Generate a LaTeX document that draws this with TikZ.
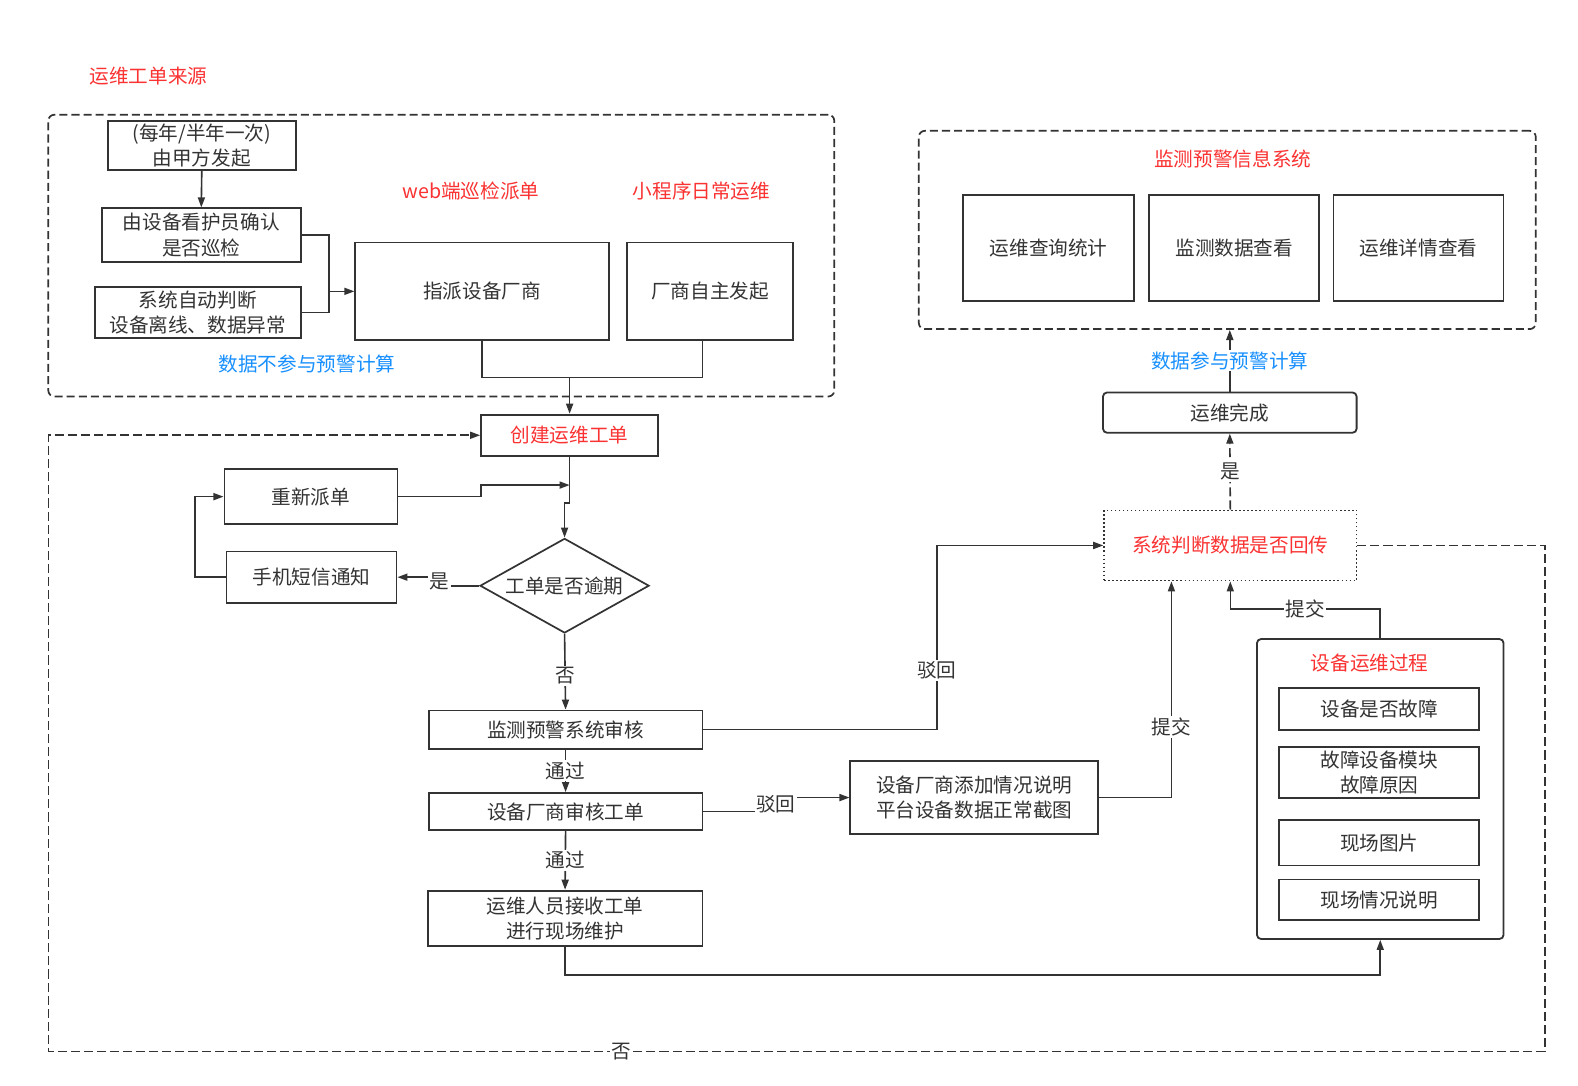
\documentclass[tikz,border=0pt]{standalone}
\usepackage{fontspec}
\setmainfont{Noto Sans CJK SC}
\usetikzlibrary{arrows.meta,shapes.geometric}
\definecolor{ink}{RGB}{51,51,51}
\definecolor{hred}{RGB}{250,50,50}
\definecolor{hblue}{RGB}{24,144,255}
\begin{document}
\begin{tikzpicture}[x=1pt,y=-1pt,
  every node/.style={font=\fontsize{19.5}{25}\selectfont, text=ink, inner sep=0pt},
  box/.style={draw=ink, line width=1.8pt, align=center},
  rbox/.style={box, rounded corners=4pt},
  grp/.style={draw=ink, line width=1.7pt, dash pattern=on 8pt off 4pt, rounded corners=6pt},
  dotbox/.style={draw=ink, line width=1.4pt, dash pattern=on 1.5pt off 2.5pt, align=center},
  conn/.style={draw=ink, line width=1.6pt},
  arr/.style={conn, -{Triangle[length=10pt,width=7pt]}},
  darr/.style={arr, dash pattern=on 9pt off 4pt},
  lbl/.style={fill=white, inner sep=1.5pt},
  redtxt/.style={text=hred},
  bluetxt/.style={text=hblue}
]
\fill[white] (0,0) rectangle (1568,1079);
\useasboundingbox (0,0) rectangle (1568,1079);

% titles
\node[redtxt] (t1) at (147.5,76) {运维工单来源};

% top-left group
\node[grp, minimum width=781pt, minimum height=280pt] (TL) at (438.5,254) {};
\node[redtxt] (t2) at (468,190) {web端巡检派单};
\node[redtxt] (t3) at (697,190) {小程序日常运维};
\node[bluetxt] (t4) at (305,362) {数据不参与预警计算};

\node[box, minimum width=187pt, minimum height=49pt] (A) at (200.5,144.5) {(每年/半年一次)\\由甲方发起};
\node[box, minimum width=198pt, minimum height=53pt] (B) at (200,233.5) {由设备看护员确认\\是否巡检};
\node[box, minimum width=205pt, minimum height=51pt] (C) at (196.5,310.5) {系统自动判断\\设备离线、数据异常};
\node[box, minimum width=252pt, minimum height=97pt] (D) at (479,289.5) {指派设备厂商};
\node[box, minimum width=165pt, minimum height=97pt] (E) at (705.5,289.5) {厂商自主发起};

\node[box, redtxt, minimum width=176pt, minimum height=41pt] (F) at (566,432.5) {创建运维工单};

% left loop
\node[box, minimum width=172pt, minimum height=55pt] (H) at (309,493.5) {重新派单};
\node[box, minimum width=169pt, minimum height=51pt] (I) at (309.5,573.5) {手机短信通知};
\node[draw=ink, line width=1.7pt, shape=diamond, aspect=1.78, minimum width=168pt, minimum height=94pt] (J) at (561,582) {工单是否逾期};

% main column
\node[box, minimum width=272pt, minimum height=38pt] (K) at (562,725) {监测预警系统审核};
\node[box, minimum width=272pt, minimum height=37pt] (L) at (562,806.5) {设备厂商审核工单};
\node[box, minimum width=273pt, minimum height=55pt] (M) at (561.5,912.5) {运维人员接收工单\\进行现场维护};
\node[box, minimum width=246pt, minimum height=73pt] (O) at (968,792.5) {设备厂商添加情况说明\\平台设备数据正常截图};

% right side
\node[dotbox, redtxt, minimum width=251pt, minimum height=70pt] (G) at (1222.5,542) {系统判断数据是否回传};
\node[rbox, minimum width=245pt, minimum height=298pt] (N) at (1371.5,784) {};
\node[redtxt] (t6) at (1361,659) {设备运维过程};
\node[box, minimum width=199pt, minimum height=41pt] (N1) at (1370.5,704.5) {设备是否故障};
\node[box, minimum width=199pt, minimum height=51pt] (N2) at (1370.5,767.5) {故障设备模块\\故障原因};
\node[box, minimum width=199pt, minimum height=45pt] (N3) at (1370.5,837.5) {现场图片};
\node[box, minimum width=199pt, minimum height=40pt] (N4) at (1370.5,894) {现场情况说明};

\node[rbox, minimum width=252pt, minimum height=40pt] (P) at (1222,410) {运维完成};

\node[grp, minimum width=613pt, minimum height=197pt] (Q) at (1219.5,228.5) {};
\node[redtxt] (t5) at (1225,158) {监测预警信息系统};
\node[box, minimum width=170pt, minimum height=105pt] (Q1) at (1042,246.5) {运维查询统计};
\node[box, minimum width=169pt, minimum height=105pt] (Q2) at (1226.5,246.5) {监测数据查看};
\node[box, minimum width=169pt, minimum height=105pt] (Q3) at (1409.5,246.5) {运维详情查看};

% helper coordinates
\coordinate (mx) at (327,0);
\coordinate (my) at (0,375);
\coordinate (ex) at (698,0);
\coordinate (fy) at (0,500);
\coordinate (hy) at (0,482);
\coordinate (hx2) at (478,0);
\coordinate (hx) at (194,0);
\coordinate (sy) at (437,0);
\coordinate (kx) at (931,0);
\coordinate (sx) at (771,0);
\coordinate (tx) at (1164,0);
\coordinate (ty) at (0,605);
\coordinate (my2) at (0,969);
\coordinate (rx) at (1535,0);
\coordinate (by) at (0,1045);
\coordinate (lx) at (48,0);

% connectors top-left
\draw[arr] (A.south) -- (B.north);
\draw[conn] (B.east) -| (mx |- D.west);
\draw[conn] (C.east) -| (mx |- D.west);
\draw[arr] (mx |- D.west) -- (D.west);
\draw[conn] (D.south) |- (F.north |- my);
\draw[conn] (E.south -| ex) |- (F.north |- my);
\draw[arr] (F.north |- my) -- (F.north);

% F -> J
\draw[arr] (F.south) -- (F.south |- fy) -- (J.north |- fy) -- (J.north);
% H -> line
\draw[arr] (H.east) -- (H.east -| hx2) -- (hx2 |- hy) -- (F.south |- hy);
% J -> I
\draw[arr] (J.west) -- (J.west -| sy) -- node[lbl]{是} (I.east -| sy) -- (I.east);
% I -> H
\draw[arr] (I.west) -- (I.west -| hx) -- (hx |- H.west) -- (H.west);
% J -> K
\draw[arr] (J.south) -- node[lbl, pos=0.55]{否} (K.north);
\draw[arr] (K.south) -- node[lbl]{通过} (L.north);
\draw[arr] (L.south) -- node[lbl, pos=0.5]{通过} (M.north);
% K -> G
\draw[arr] (K.east) -| node[lbl, pos=0.66]{驳回} (G.west -| kx) -- (G.west);
% L -> O
\draw[arr] (L.east) -- (L.east -| sx) -- node[lbl]{驳回} (O.west -| sx) -- (O.west);
% O -> G
\draw[arr] (O.east) -| node[lbl, pos=0.663]{提交} (G.south -| tx);
% N -> G
\draw[arr] (N.north) -- (N.north |- ty) -- node[lbl]{提交} (G.south |- ty) -- (G.south);
% M -> N
\draw[arr] (M.south) -- (M.south |- my2) -| (N.south);
% G -> P
\draw[darr] (G.north) -- node[lbl]{是} (P.south);
% P -> Q
\draw[arr] (P.north) -- node[lbl, bluetxt]{数据参与预警计算} (P.north |- Q.south);
% dashed loop back
\draw[darr] (G.east) -- (G.east -| rx) -- (rx |- by) -- node[lbl, pos=0.617]{否} (lx |- by) -- (lx |- F.west) -- (F.west);
\end{tikzpicture}
\end{document}
